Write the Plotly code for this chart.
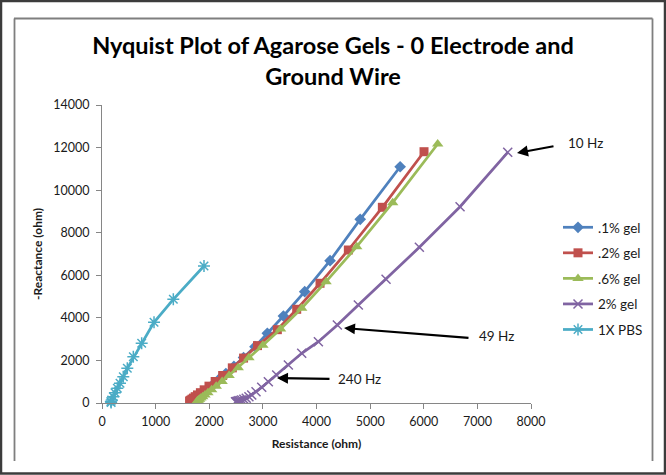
import plotly.graph_objects as go

# ---------------- data ----------------
series_names = [".1% gel", ".2% gel", ".6% gel", "2% gel", "1X PBS"]

gel01_x = [5560, 4815, 4253, 3780, 3383, 3083, 2853, 2640, 2460, 2310, 2185, 2085,
           2005, 1940, 1888, 1847, 1813, 1786, 1764, 1746, 1732, 1721, 1712]
gel01_y = [11100, 8630, 6685, 5230, 4087, 3274, 2645, 2133, 1720, 1387, 1119, 902,
           728, 587, 473, 382, 308, 248, 200, 161, 130, 105, 85]

gel02_x = [6005, 5228, 4594, 4066, 3631, 3270, 2900, 2640, 2430, 2250, 2110, 1995,
           1905, 1835, 1780, 1738, 1705, 1680, 1660, 1645, 1633]
gel02_y = [11806, 9194, 7188, 5624, 4402, 3445, 2696, 2110, 1651, 1292, 1011, 791,
           619, 485, 379, 297, 232, 182, 142, 111, 87]

gel06_x = [6260, 5421, 4750, 4178, 3724, 3330, 3000, 2740, 2540, 2370, 2240, 2130,
           2045, 1975, 1920, 1878, 1845, 1820, 1800, 1785, 1775]
gel06_y = [12168, 9410, 7343, 5699, 4449, 3475, 2715, 2120, 1656, 1294, 1011, 790,
           617, 482, 377, 294, 230, 180, 140, 110, 86]

gel2_x = [7566, 6677, 5918, 5297, 4780, 4389, 4035, 3724, 3475, 3258, 3102, 2978,
          2872, 2792, 2740, 2690, 2645, 2605, 2575, 2550, 2530, 2515, 2500, 2490]
gel2_y = [11778, 9222, 7314, 5810, 4604, 3664, 2880, 2335, 1785, 1315, 1001, 737,
          531, 376, 290, 225, 180, 145, 120, 100, 85, 72, 62, 55]

pbs_x = [1902, 1330, 970, 740, 584, 472, 397, 336, 286, 242, 211, 181, 165, 170,
         190, 220, 250]
pbs_y = [6436, 4872, 3790, 2804, 2175, 1630, 1236, 925, 690, 484, 296, 141, 70, 20,
         -40, -90, -130]

colors = ["#4F81BD", "#C0504D", "#9BBB59", "#8064A2", "#4BACC6"]
symbols = ["diamond", "square", "triangle-up", "x-thin-open", "asterisk-open"]
marker_sizes = [9, 9, 10, 9, 10]

x_ticks = [0, 1000, 2000, 3000, 4000, 5000, 6000, 7000, 8000]
y_ticks = [0, 2000, 4000, 6000, 8000, 10000, 12000, 14000]

freq_labels = ["10 Hz", "49 Hz", "240 Hz"]

# ---------------- layout geometry ----------------
W, H = 666, 475
L, R, T, B = 102, 135, 105, 72
PW, PH = W - L - R, H - T - B


def pxx(x):
    return (x - L) / PW


def pxy(y):
    return (H - B - y) / PH


FONT = "Lato, 'Open Sans', 'DejaVu Sans', sans-serif"

fig = go.Figure()
all_x = [gel01_x, gel02_x, gel06_x, gel2_x, pbs_x]
all_y = [gel01_y, gel02_y, gel06_y, gel2_y, pbs_y]
for i, name in enumerate(series_names):
    open_sym = symbols[i].endswith("open")
    fig.add_trace(go.Scatter(
        x=all_x[i], y=all_y[i], name=name, mode="lines+markers",
        legendgroup=name,
        line=dict(color=colors[i], width=2.75),
        marker=dict(symbol=symbols[i], size=marker_sizes[i], color=colors[i],
                    line=dict(color=colors[i], width=1.5 if open_sym else 0)),
        cliponaxis=False if i == 4 else True,
    ))

axis_common = dict(
    showgrid=False, zeroline=False, showline=True, linecolor="#868686", linewidth=1,
    ticks="outside", ticklen=5, tickcolor="#868686", tickwidth=1,
    tickfont=dict(family=FONT, size=12.5, color="#1a1a1a"),
)

fig.update_xaxes(range=[0, 8000], tickvals=x_ticks, ticktext=[str(v) for v in x_ticks],
                 ticklabelstandoff=2,
                 title=dict(text="<b>Resistance (ohm)</b>", font=dict(family=FONT, size=12, color="#1a1a1a"),
                            standoff=11),
                 **axis_common)
fig.update_yaxes(range=[0, 14000], tickvals=y_ticks, ticktext=[str(v) for v in y_ticks],
                 ticklabelstandoff=4,
                 title=dict(text="<b>-Reactance (ohm)</b>", font=dict(family=FONT, size=12, color="#1a1a1a"),
                            standoff=8),
                 **axis_common)

# frames
shapes = [
    dict(type="rect", xref="paper", yref="paper", x0=pxx(1), x1=pxx(665), y0=pxy(473.5), y1=pxy(1),
         line=dict(color="#3c3c3c", width=2.5)),
    dict(type="line", xref="paper", yref="paper", x0=pxx(14.5), x1=pxx(14.5), y0=pxy(461), y1=pxy(18.5),
         line=dict(color="#7f7f7f", width=1.8)),
    dict(type="line", xref="paper", yref="paper", x0=pxx(14), x1=pxx(652.5), y0=pxy(18.5), y1=pxy(18.5),
         line=dict(color="#7f7f7f", width=1.8)),
    dict(type="line", xref="paper", yref="paper", x0=pxx(652.5), x1=pxx(652.5), y0=pxy(18.5), y1=pxy(461),
         line=dict(color="#7f7f7f", width=1.8)),
]

ann_font = dict(family=FONT, size=13.5, color="#1a1a1a")
annotations = [
    dict(xref="paper", yref="paper", x=pxx(517), y=pxy(153), ax=38, ay=-7, text="",
         showarrow=True, arrowhead=2, arrowsize=1, arrowwidth=2.2, arrowcolor="#000"),
    dict(xref="paper", yref="paper", x=pxx(344), y=pxy(328), ax=126, ay=10, text="",
         showarrow=True, arrowhead=2, arrowsize=1, arrowwidth=2.2, arrowcolor="#000"),
    dict(xref="paper", yref="paper", x=pxx(277), y=pxy(378), ax=54, ay=1, text="",
         showarrow=True, arrowhead=2, arrowsize=1, arrowwidth=2.2, arrowcolor="#000"),
    dict(xref="paper", yref="paper", x=pxx(566), y=pxy(143), text=freq_labels[0], showarrow=False,
         xanchor="left", yanchor="middle", font=ann_font),
    dict(xref="paper", yref="paper", x=pxx(477), y=pxy(336), text=freq_labels[1], showarrow=False,
         xanchor="left", yanchor="middle", font=ann_font),
    dict(xref="paper", yref="paper", x=pxx(336), y=pxy(379), text=freq_labels[2], showarrow=False,
         xanchor="left", yanchor="middle", font=ann_font),
]

fig.update_layout(
    width=W, height=H,
    margin=dict(l=L, r=R, t=T, b=B, autoexpand=False),
    paper_bgcolor="white", plot_bgcolor="white",
    title=dict(text="<b>Nyquist Plot of Agarose Gels - 0 Electrode and<br>Ground Wire</b>",
               x=0.5, xref="container", xanchor="center", y=1 - 54 / H, yref="container", yanchor="middle",
               font=dict(family=FONT, size=23.5, color="#000")),
    legend=dict(x=pxx(558), xanchor="left", y=pxy(212), yanchor="top",
                traceorder="grouped", tracegroupgap=5,
                font=dict(family=FONT, size=13.5, color="#1a1a1a"),
                bgcolor="rgba(0,0,0,0)", itemwidth=30),
    shapes=shapes, annotations=annotations,
    showlegend=True,
)

fig.write_html("out.html", config={"displayModeBar": False},
               post_script="document.body.style.margin='0px';")
